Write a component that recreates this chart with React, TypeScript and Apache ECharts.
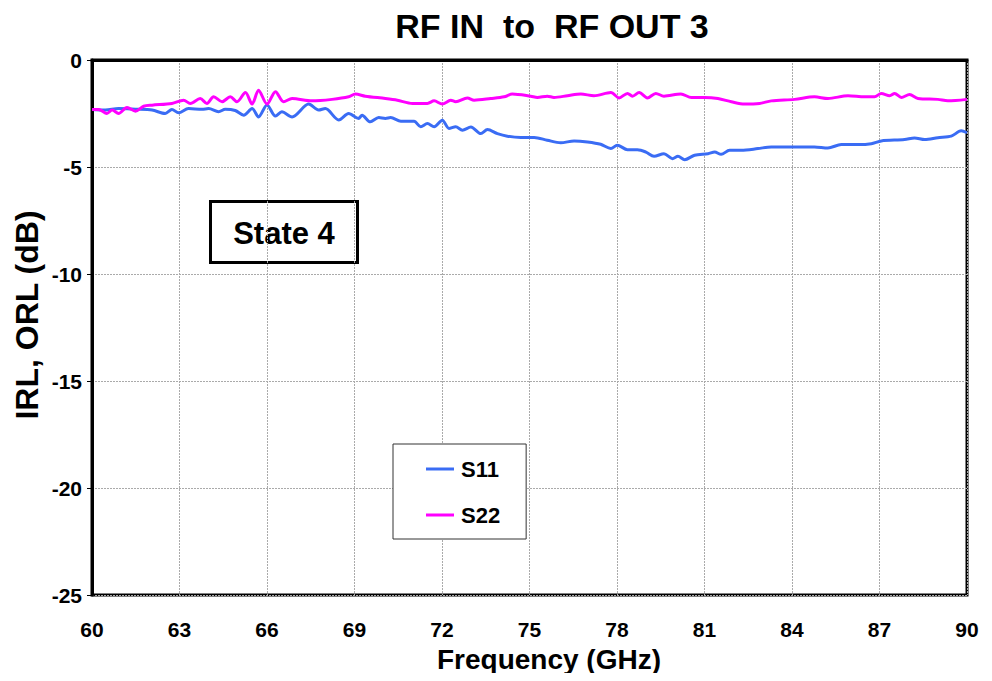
import React, { useEffect, useRef } from "react";
import * as echarts from "echarts";

const s11Freq = [60.0, 60.46, 60.91, 61.49, 62.06, 62.51, 62.74, 62.97, 63.31, 63.77, 64.0, 64.34, 64.57, 64.91, 65.2, 65.49, 65.71, 66.0, 66.29, 66.51, 66.86, 67.43, 67.77, 68.0, 68.46, 68.8, 69.14, 69.26, 69.54, 69.83, 70.06, 70.24, 70.59, 71.04, 71.27, 71.5, 71.73, 72.01, 72.24, 72.47, 72.7, 72.99, 73.33, 73.56, 73.9, 74.24, 74.7, 75.16, 75.61, 76.07, 76.53, 76.99, 77.44, 77.79, 78.01, 78.36, 78.7, 78.99, 79.27, 79.61, 79.9, 80.09, 80.32, 80.66, 81.12, 81.35, 81.57, 81.86, 82.26, 82.83, 83.29, 83.86, 84.77, 85.23, 85.69, 86.26, 86.72, 87.06, 87.86, 88.2, 88.55, 89.0, 89.46, 89.8, 90.0];
const s11Vals = [-2.31, -2.34, -2.27, -2.3, -2.34, -2.5, -2.31, -2.47, -2.27, -2.3, -2.27, -2.42, -2.3, -2.36, -2.58, -2.27, -2.66, -2.1, -2.62, -2.42, -2.66, -2.06, -2.34, -2.27, -2.8, -2.5, -2.73, -2.58, -2.89, -2.69, -2.73, -2.69, -2.86, -2.86, -3.12, -2.97, -3.12, -2.81, -3.2, -3.12, -3.28, -3.13, -3.44, -3.25, -3.44, -3.56, -3.62, -3.62, -3.75, -3.87, -3.78, -3.83, -3.94, -4.14, -3.98, -4.19, -4.19, -4.3, -4.5, -4.38, -4.61, -4.5, -4.66, -4.45, -4.38, -4.3, -4.41, -4.22, -4.22, -4.14, -4.06, -4.06, -4.06, -4.11, -3.95, -3.95, -3.91, -3.78, -3.72, -3.64, -3.72, -3.63, -3.56, -3.31, -3.4];

const s22Freq = [60.0, 60.23, 60.51, 60.69, 60.91, 61.2, 61.49, 61.77, 62.06, 62.74, 63.14, 63.37, 63.71, 63.94, 64.17, 64.46, 64.74, 64.97, 65.26, 65.49, 65.71, 66.0, 66.29, 66.57, 66.86, 67.54, 68.23, 68.8, 69.03, 69.37, 70.06, 70.47, 70.99, 71.5, 71.73, 72.01, 72.3, 72.47, 72.87, 73.1, 73.67, 74.13, 74.41, 75.04, 75.27, 75.61, 75.84, 76.3, 76.76, 77.21, 77.79, 78.07, 78.36, 78.53, 78.76, 79.04, 79.33, 79.61, 80.19, 80.55, 81.0, 81.46, 81.92, 82.37, 82.89, 83.29, 84.09, 84.77, 85.23, 85.92, 86.49, 86.83, 87.06, 87.35, 87.52, 87.75, 88.03, 88.32, 89.0, 89.34, 90.0];
const s22Vals = [-2.31, -2.31, -2.5, -2.34, -2.5, -2.22, -2.39, -2.16, -2.11, -2.03, -1.88, -2.03, -1.8, -2.03, -1.72, -1.95, -1.72, -1.95, -1.52, -2.06, -1.41, -2.06, -1.48, -1.95, -1.8, -1.91, -1.84, -1.72, -1.59, -1.69, -1.8, -1.88, -2.03, -2.03, -1.91, -2.06, -1.88, -1.95, -1.77, -1.88, -1.8, -1.72, -1.59, -1.69, -1.75, -1.69, -1.75, -1.67, -1.59, -1.67, -1.52, -1.77, -1.56, -1.69, -1.52, -1.77, -1.56, -1.69, -1.59, -1.75, -1.75, -1.8, -1.95, -2.06, -2.03, -1.91, -1.84, -1.72, -1.8, -1.67, -1.72, -1.72, -1.56, -1.67, -1.56, -1.75, -1.61, -1.8, -1.84, -1.91, -1.84];

const xTicks = [60, 63, 66, 69, 72, 75, 78, 81, 84, 87, 90];
const yTicks = [0, -5, -10, -15, -20, -25];

const FONT = "Liberation Sans, Arial, sans-serif";

export default function App() {
  const ref = useRef<HTMLDivElement>(null);
  useEffect(() => {
    if (!ref.current) return;
    const chart = echarts.init(ref.current, null, { renderer: "svg" });
    const pair = (xs: number[], ys: number[]) => xs.map((x, i) => [x, ys[i]]);
    chart.setOption({
      animation: false,
      backgroundColor: "#ffffff",
      grid: {
        left: 92,
        top: 60,
        right: 25,
        bottom: 86,
        containLabel: false,
        outerBoundsMode: "none",
        show: true,
        borderColor: "#000",
        borderWidth: 3,
        backgroundColor: "transparent",
      },
      legend: {
        orient: "vertical",
        left: 393,
        top: 444,
        padding: [14, 26, 13, 33],
        itemGap: 24,
        itemWidth: 28,
        itemHeight: 3,
        icon: "rect",
        borderColor: "#333",
        borderWidth: 1,
        backgroundColor: "#fff",
        textStyle: { fontFamily: FONT, fontWeight: "bold", fontSize: 22, color: "#000", padding: [0, 0, 0, 2] },
        data: ["S11", "S22"],
      },
      xAxis: {
        type: "value",
        min: 60,
        max: 90,
        interval: 3,
        axisLine: { show: true, lineStyle: { color: "#000", width: 3 } },
        axisTick: { show: false },
        axisLabel: {
          fontFamily: FONT,
          fontWeight: "bold",
          fontSize: 21,
          color: "#000",
          margin: 24,
          formatter: (v: number) => (xTicks.includes(v) ? String(v) : ""),
        },
        splitLine: { show: true, lineStyle: { color: "#aaa", width: 1, type: [2, 1] } },
      },
      yAxis: {
        type: "value",
        min: -25,
        max: 0,
        interval: 5,
        axisLine: { show: true, lineStyle: { color: "#000", width: 3 } },
        axisTick: { show: true, length: 5, lineStyle: { color: "#000", width: 1 } },
        axisLabel: {
          fontFamily: FONT,
          fontWeight: "bold",
          fontSize: 21,
          color: "#000",
          margin: 10,
          formatter: (v: number) => (yTicks.includes(v) ? String(v) : ""),
        },
        splitLine: { show: true, lineStyle: { color: "#aaa", width: 1, type: [2, 1] } },
      },
      graphic: [
        {
          type: "text",
          x: 552,
          y: 26,
          z: 100,
          style: {
            text: "RF IN  to  RF OUT 3",
            fontFamily: FONT,
            fontWeight: "bold",
            fontSize: 34,
            fill: "#000",
            align: "center",
            verticalAlign: "middle",
          },
        },
        {
          type: "text",
          x: 549,
          y: 659,
          z: 100,
          style: {
            text: "Frequency (GHz)",
            fontFamily: FONT,
            fontWeight: "bold",
            fontSize: 28,
            fill: "#000",
            align: "center",
            verticalAlign: "middle",
          },
        },
        {
          type: "text",
          x: 27,
          y: 315,
          rotation: Math.PI / 2,
          z: 100,
          style: {
            text: "IRL, ORL (dB)",
            fontFamily: FONT,
            fontWeight: "bold",
            fontSize: 32,
            fill: "#000",
            align: "center",
            verticalAlign: "middle",
          },
        },
        {
          type: "group",
          left: 209,
          top: 200,
          z: 100,
          children: [
            {
              type: "rect",
              shape: { x: 0, y: 0, width: 147, height: 61 },
              style: { fill: "#fff", stroke: "#000", lineWidth: 3 },
            },
            {
              type: "text",
              x: 73.5,
              y: 32,
              style: {
                text: "State 4",
                fontFamily: FONT,
                fontWeight: "bold",
                fontSize: 31,
                fill: "#000",
                align: "center",
                verticalAlign: "middle",
              },
            },
          ],
        },
      ],
      series: [
        {
          name: "S11",
          type: "line",
          data: pair(s11Freq, s11Vals),
          showSymbol: false,
          symbol: "none",
          smooth: 0.3,
          color: "#3a6cf4",
          lineStyle: { width: 3, color: "#3a6cf4" },
          z: 3,
        },
        {
          name: "S22",
          type: "line",
          data: pair(s22Freq, s22Vals),
          showSymbol: false,
          symbol: "none",
          smooth: 0.3,
          color: "#ff00ff",
          lineStyle: { width: 3, color: "#ff00ff" },
          z: 4,
        },
      ],
    });
    return () => chart.dispose();
  }, []);
  return <div ref={ref} style={{ width: 992, height: 681, margin: -8 }} />;
}
